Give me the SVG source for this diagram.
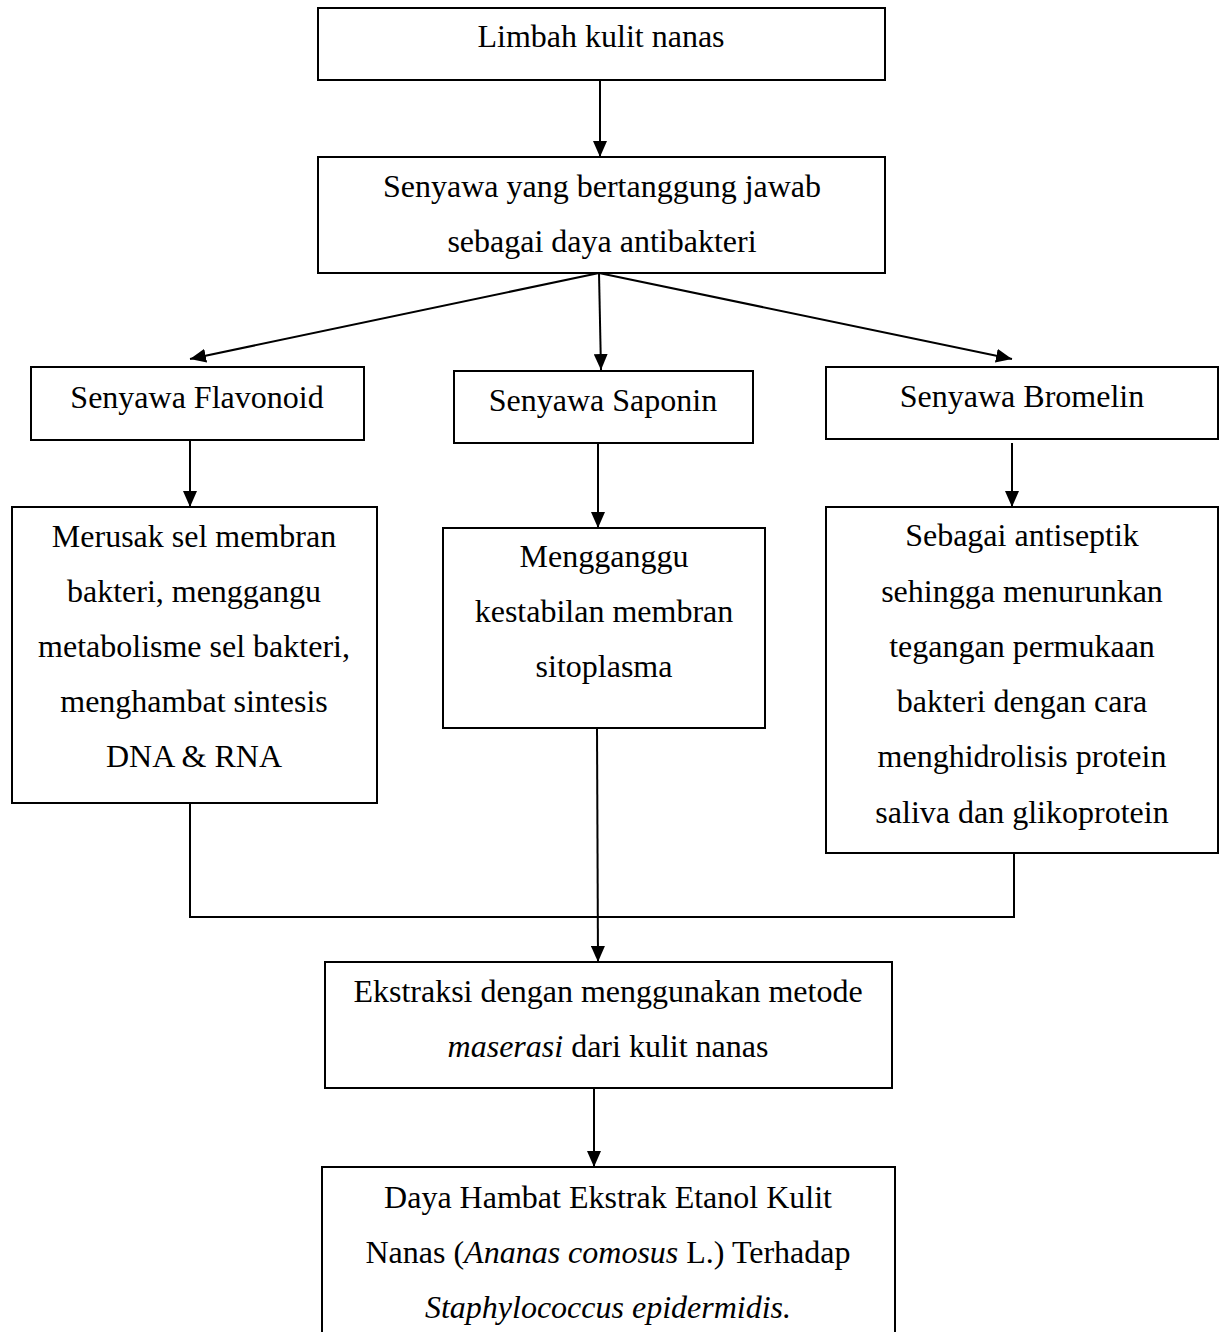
<svg xmlns="http://www.w3.org/2000/svg" width="1220" height="1332" viewBox="0 0 1220 1332">
<style>
.box{fill:#fff;stroke:#000;stroke-width:2}
.t{font-family:"Liberation Serif","Times New Roman",serif;font-size:32px;fill:#000;text-anchor:middle}
.i{font-style:italic}
.c{fill:none;stroke:#000;stroke-width:2}
</style>
<defs>
<marker id="ah" viewBox="0 0 16 14" refX="16" refY="7" markerWidth="16" markerHeight="14" markerUnits="userSpaceOnUse" orient="auto">
<path d="M0,0 L16,7 L0,14 z" fill="#000"/>
</marker>
</defs>
<rect width="1220" height="1332" fill="#fff"/>
<g id="connectors">
<line class="c" x1="600" y1="80" x2="600" y2="157" marker-end="url(#ah)"/>
<line class="c" x1="599" y1="273" x2="190" y2="359" marker-end="url(#ah)"/>
<line class="c" x1="599" y1="273" x2="601" y2="370" marker-end="url(#ah)"/>
<line class="c" x1="599" y1="273" x2="1012" y2="359" marker-end="url(#ah)"/>
<line class="c" x1="190" y1="440" x2="190" y2="507" marker-end="url(#ah)"/>
<line class="c" x1="598" y1="443" x2="598" y2="528" marker-end="url(#ah)"/>
<line class="c" x1="1012" y1="443" x2="1012" y2="507" marker-end="url(#ah)"/>
<polyline class="c" points="190,803 190,917 1014,917 1014,853"/>
<line class="c" x1="597" y1="728" x2="598" y2="962" marker-end="url(#ah)"/>
<line class="c" x1="594" y1="1088" x2="594" y2="1167" marker-end="url(#ah)"/>
</g>
<g id="limbah">
<rect class="box" x="318" y="8" width="567" height="72"/>
<text class="t" x="601" y="47">Limbah kulit nanas</text>
</g>
<g id="senyawa">
<rect class="box" x="318" y="157" width="567" height="116"/>
<text class="t" x="602" y="197">Senyawa yang bertanggung jawab</text>
<text class="t" x="602" y="252">sebagai daya antibakteri</text>
</g>
<g id="flavonoid">
<rect class="box" x="31" y="367" width="333" height="73"/>
<text class="t" x="197" y="408">Senyawa Flavonoid</text>
</g>
<g id="saponin">
<rect class="box" x="454" y="371" width="299" height="72"/>
<text class="t" x="603" y="411">Senyawa Saponin</text>
</g>
<g id="bromelin">
<rect class="box" x="826" y="367" width="392" height="72"/>
<text class="t" x="1022" y="407">Senyawa Bromelin</text>
</g>
<g id="flavonoid-effect">
<rect class="box" x="12" y="507" width="365" height="296"/>
<text class="t" x="194" y="547">Merusak sel membran</text>
<text class="t" x="194" y="602">bakteri, menggangu</text>
<text class="t" x="194" y="657">metabolisme sel bakteri,</text>
<text class="t" x="194" y="712">menghambat sintesis</text>
<text class="t" x="194" y="767">DNA &amp; RNA</text>
</g>
<g id="saponin-effect">
<rect class="box" x="443" y="528" width="322" height="200"/>
<text class="t" x="604" y="567">Mengganggu</text>
<text class="t" x="604" y="622">kestabilan membran</text>
<text class="t" x="604" y="677">sitoplasma</text>
</g>
<g id="bromelin-effect">
<rect class="box" x="826" y="507" width="392" height="346"/>
<text class="t" x="1022" y="546">Sebagai antiseptik</text>
<text class="t" x="1022" y="602">sehingga menurunkan</text>
<text class="t" x="1022" y="657">tegangan permukaan</text>
<text class="t" x="1022" y="712">bakteri dengan cara</text>
<text class="t" x="1022" y="767">menghidrolisis protein</text>
<text class="t" x="1022" y="823">saliva dan glikoprotein</text>
</g>
<g id="ekstraksi">
<rect class="box" x="325" y="962" width="567" height="126"/>
<text class="t" x="608" y="1002">Ekstraksi dengan menggunakan metode</text>
<text class="t" x="608" y="1057"><tspan class="i">maserasi</tspan> dari kulit nanas</text>
</g>
<g id="daya-hambat">
<rect class="box" x="322" y="1167" width="573" height="180"/>
<text class="t" x="608" y="1208">Daya Hambat Ekstrak Etanol Kulit</text>
<text class="t" x="608" y="1263">Nanas (<tspan class="i">Ananas comosus</tspan> L.) Terhadap</text>
<text class="t" x="608" y="1318"><tspan class="i">Staphylococcus epidermidis.</tspan></text>
</g>
</svg>
